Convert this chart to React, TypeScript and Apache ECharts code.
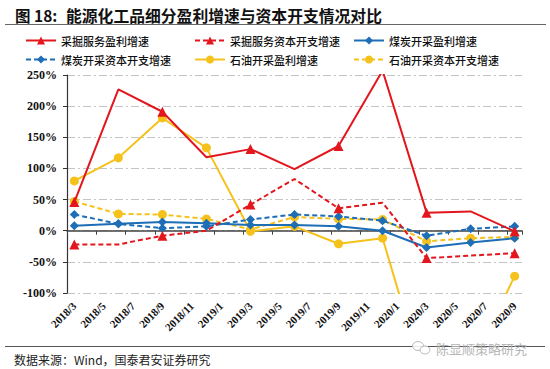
import React, { useEffect, useRef } from "react";
import * as echarts from "echarts";

const months = [
  "2018/3", "2018/4", "2018/5", "2018/6", "2018/7", "2018/8", "2018/9", "2018/10", "2018/11", "2018/12",
  "2019/1", "2019/2", "2019/3", "2019/4", "2019/5", "2019/6", "2019/7", "2019/8", "2019/9", "2019/10", "2019/11", "2019/12",
  "2020/1", "2020/2", "2020/3", "2020/4", "2020/5", "2020/6", "2020/7", "2020/8", "2020/9",
];
const quarters = ["2018/3", "2018/6", "2018/9", "2018/12", "2019/3", "2019/6", "2019/9", "2019/12", "2020/3", "2020/6", "2020/9"];

const svcProfit = [46, 227, 191, 118, 131, 99, 136, 257, 29, 31, -1];
const svcCapex = [-22, -22, -8, 0, 42, 83, 36, 45, -44, -40, -36];
const coalProfit = [8, 11, 14, 12, 9, 9, 7, 0, -27, -19, -12];
const coalCapex = [26, 11, 4, 7, 18, 26, 23, 16, -8, 3, 7];
const oilProfit = [80, 117, 181, 133, -1, 7, -21, -12, -250, -220, -73];
const oilCapex = [47, 27, 26, 19, 2, 22, 19, 18, -17, -12, -10];

const names = [
  "采掘服务盈利增速",
  "采掘服务资本开支增速",
  "煤炭开采盈利增速",
  "煤炭开采资本开支增速",
  "石油开采盈利增速",
  "石油开采资本开支增速",
];
const values = [svcProfit, svcCapex, coalProfit, coalCapex, oilProfit, oilCapex];

const RED = "#E3161D";
const BLUE = "#1D6EB6";
const YELLOW = "#F5C21C";
const colors = [RED, RED, BLUE, BLUE, YELLOW, YELLOW];
const symbols = ["triangle", "triangle", "diamond", "diamond", "circle", "circle"];
const symbolSizes = [10, 10, 9, 9, 9, 9];
const dashed = [false, true, false, true, false, true];

const CJK = "'Noto Sans CJK SC', sans-serif";
const SERIF = "'Liberation Serif', serif";

export default function App() {
  const ref = useRef<HTMLDivElement>(null);
  useEffect(() => {
    if (!ref.current) return;
    const chart = echarts.init(ref.current, null, { renderer: "svg" });
    const legendLeft = [25, 194, 353];
    const legendTop = [35, 54];
    const option: any = {
      animation: false,
      backgroundColor: "#ffffff",
      grid: { left: 67, right: 28, top: 75, bottom: 76, containLabel: false },
      legend: names.map((n, i) => ({
        data: [n],
        left: legendLeft[i % 3],
        top: legendTop[Math.floor(i / 3)],
        padding: 0,
        itemWidth: 30,
        itemHeight: 10,
        textStyle: { fontFamily: CJK, fontSize: 11, color: "#111", fontWeight: 500 },
      })),
      xAxis: [
        {
          type: "category",
          data: months,
          boundaryGap: true,
          position: "bottom",
          axisLine: { show: false, onZero: false },
          axisTick: { show: false },
          axisLabel: {
            interval: 1,
            rotate: 45,
            margin: 11,
            fontFamily: SERIF,
            fontWeight: "bold",
            fontSize: 11,
            color: "#111",
          },
          splitLine: { show: false },
        },
        {
          type: "category",
          data: months,
          boundaryGap: true,
          position: "bottom",
          axisLine: { show: true, onZero: true, lineStyle: { color: "#444", width: 1.5 } },
          axisTick: { show: true, interval: 1, length: 4, lineStyle: { color: "#444" } },
          axisLabel: { show: false },
          splitLine: { show: false },
        },
      ],
      yAxis: {
        type: "value",
        min: -100,
        max: 250,
        interval: 50,
        axisLine: { show: true, lineStyle: { color: "#333", width: 1.2 } },
        axisTick: { show: true, length: 4, lineStyle: { color: "#333" } },
        axisLabel: {
          formatter: "{value}%",
          margin: 10,
          fontFamily: SERIF,
          fontWeight: "bold",
          fontSize: 12,
          color: "#111",
        },
        splitLine: { show: true, lineStyle: { color: "#C4C4C4", width: 1, type: [8, 3, 2, 3] } },
      },
      series: names.map((n, i) => ({
        name: n,
        type: "line",
        xAxisIndex: 0,
        clip: true,
        data: quarters.map((q, k) => [q, values[i][k]]),
        symbol: symbols[i],
        symbolSize: symbolSizes[i],
        color: colors[i],
        itemStyle: { color: colors[i] },
        lineStyle: { color: colors[i], width: 2, type: dashed[i] ? [5, 3] : "solid" },
        z: 10 - i,
      })),
      graphic: [
        { type: "text", x: 15, y: 15, style: { text: "图 18:", font: `bold 15.5px ${CJK}`, fill: "#111", verticalAlign: "middle" } },
        { type: "text", x: 66, y: 15, style: { text: "能源化工品细分盈利增速与资本开支情况对比", font: `bold 15.8px ${CJK}`, fill: "#111", verticalAlign: "middle" } },
        { type: "line", shape: { x1: 5, y1: 24.5, x2: 546, y2: 24.5 }, style: { stroke: "#666", lineWidth: 1 } },
        { type: "line", shape: { x1: 5, y1: 346.5, x2: 545, y2: 346.5 }, style: { stroke: "#555", lineWidth: 1 } },
        { type: "text", x: 14, y: 359, style: { text: "数据来源：Wind，国泰君安证券研究", font: `12px ${CJK}`, fill: "#222", verticalAlign: "middle" } },
        { type: "ellipse", shape: { cx: 418, cy: 346, rx: 5.5, ry: 4.5 }, style: { fill: "rgba(255,255,255,0.85)", stroke: "#bbb", lineWidth: 1 } },
        { type: "ellipse", shape: { cx: 425, cy: 350, rx: 5, ry: 4 }, style: { fill: "rgba(255,255,255,0.85)", stroke: "#bbb", lineWidth: 1 } },
        { type: "text", x: 436, y: 348, style: { text: "陈显顺策略研究", font: `13px ${CJK}`, fill: "#b5b5b5", verticalAlign: "middle" } },
      ],
    };
    chart.setOption(option);
    return () => chart.dispose();
  }, []);
  return <div ref={ref} style={{ position: "absolute", left: 0, top: 0, width: 550, height: 369 }} />;
}
